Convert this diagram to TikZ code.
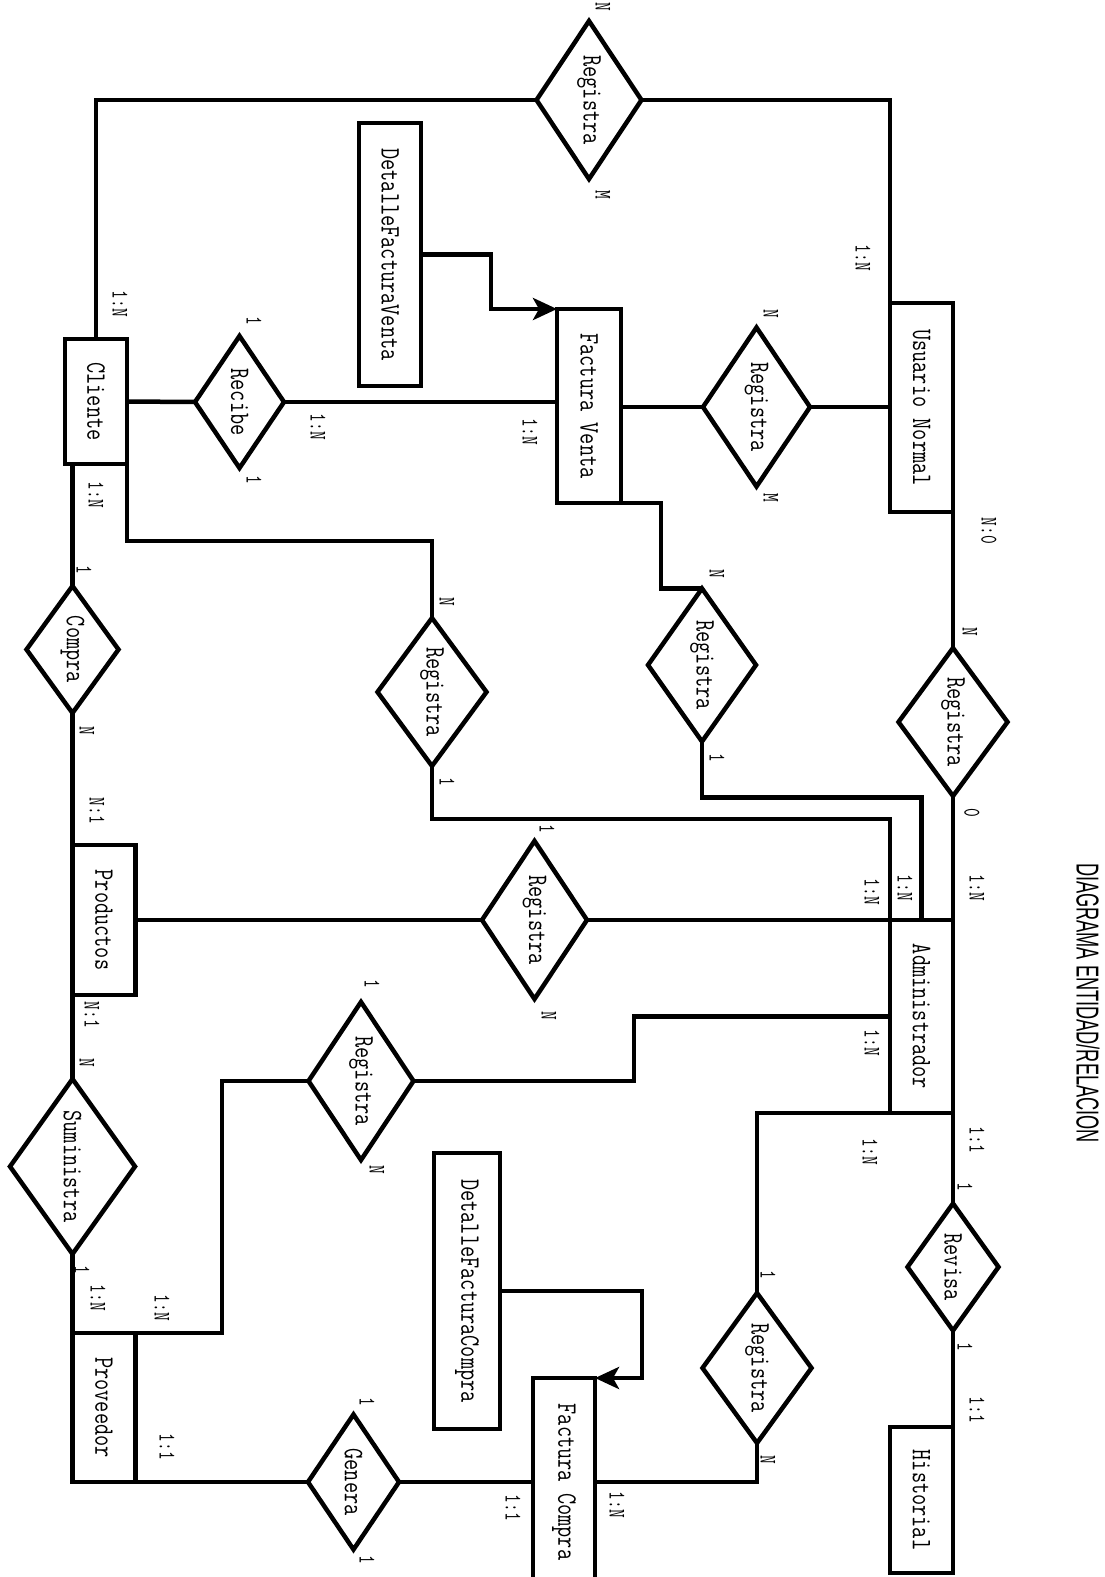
\documentclass[tikz,border=0pt]{standalone}
\usepackage{graphicx}
\usepackage{fontspec}
\setsansfont{Liberation Sans}
\usetikzlibrary{shapes.geometric,arrows.meta}
\newcommand\bxt[1]{\rotatebox{-90}{\scalebox{1}[1.3]{\fontsize{21.7}{22}\selectfont\ttfamily #1}}}
\newcommand\lbt[1]{\rotatebox{-90}{\scalebox{1}[1.4]{\fontsize{17}{17}\selectfont\ttfamily #1}}}
\tikzset{
  ent/.style={draw, line width=4.5pt, rectangle, inner sep=0pt, outer sep=0pt},
  rel/.style={draw, line width=4.5pt, diamond, aspect=0.7, inner sep=0pt, outer sep=0pt},
  lnk/.style={line width=4.5pt, line join=miter},
  arr/.style={line width=4.5pt, -{Stealth[length=24pt, width=22pt, inset=6pt]}},
  lab/.style={inner sep=0pt, outer sep=0pt}
}
\begin{document}
\begin{tikzpicture}[x=1pt, y=-1pt]
\fill[white] (0,0) rectangle (1104,1577);
\useasboundingbox (0,0) rectangle (1104,1577);

% title
\node[lab] (title) at (1088,1003) {\rotatebox{-90}{\resizebox{280pt}{23pt}{\sffamily DIAGRAMA ENTIDAD/RELACION}}};

% entities
\node[ent, minimum width=62pt, minimum height=263pt] (dfv) at (390,254.5) {\bxt{DetalleFacturaVenta}};
\node[ent, minimum width=62pt, minimum height=125pt] (cli) at (96,401.5) {\bxt{Cliente}};
\node[ent, minimum width=63pt, minimum height=209pt] (usu) at (921.5,407.5) {\bxt{Usuario Normal}};
\node[ent, minimum width=64pt, minimum height=194pt] (fv) at (589,406) {\bxt{Factura Venta}};
\node[ent, minimum width=63pt, minimum height=150pt] (prod) at (104,920) {\bxt{Productos}};
\node[ent, minimum width=63pt, minimum height=193pt] (adm) at (921.5,1016.5) {\bxt{Administrador}};
\node[ent, minimum width=63pt, minimum height=149pt] (prov) at (104,1407.5) {\bxt{Proveedor}};
\node[ent, minimum width=66pt, minimum height=276pt] (dfc) at (467,1291) {\bxt{DetalleFacturaCompra}};
\node[ent, minimum width=62pt, minimum height=208pt] (fc) at (564,1482) {\bxt{Factura Compra}};
\node[ent, minimum width=63pt, minimum height=146pt] (hist) at (921.5,1500) {\bxt{Historial}};

% relationships
\node[rel, minimum width=105pt, minimum height=158pt] (r1) at (589,100) {\bxt{Registra}};
\node[rel, minimum width=107pt, minimum height=159pt] (r2) at (756.5,407) {\bxt{Registra}};
\node[rel, minimum width=89pt, minimum height=132pt] (recibe) at (239.5,402) {\bxt{Recibe}};
\node[rel, minimum width=92pt, minimum height=127pt] (compra) at (72.5,649.5) {\bxt{Compra}};
\node[rel, minimum width=109pt, minimum height=148pt] (r3) at (432,692) {\bxt{Registra}};
\node[rel, minimum width=108pt, minimum height=153pt] (r4) at (702,665) {\bxt{Registra}};
\node[rel, minimum width=109pt, minimum height=148pt] (r5) at (953,722) {\bxt{Registra}};
\node[rel, minimum width=105pt, minimum height=158pt] (r6) at (534.5,920) {\bxt{Registra}};
\node[rel, minimum width=125pt, minimum height=175pt] (sumi) at (72.5,1166.5) {\bxt{Suministra}};
\node[rel, minimum width=105pt, minimum height=158pt] (r7) at (361,1081) {\bxt{Registra}};
\node[rel, minimum width=91pt, minimum height=127pt] (revisa) at (953,1267) {\bxt{Revisa}};
\node[rel, minimum width=109pt, minimum height=150pt] (r8) at (757,1368) {\bxt{Registra}};
\node[rel, minimum width=91pt, minimum height=135pt] (genera) at (353.5,1482) {\bxt{Genera}};

% bend points
\coordinate (dv1) at (491,280);
\coordinate (dc1) at (642,1330);

% connectors
\draw[lnk] (cli.north) |- (r1.west);
\draw[lnk] (r1.east) -| (usu.north west);
\draw[arr] (dfv.east) -| (dv1) |- (fv.north west);
\draw[lnk] (cli.east) -- (recibe.west);
\draw[lnk] (recibe.east) -- (recibe.east -| fv.west);
\draw[lnk] (fv.east |- r2.west) -- (r2.west);
\draw[lnk] (r2.east) -- (r2.east -| usu.west);
\draw[lnk] (compra.north |- cli.south) -- (compra.north);
\draw[lnk] (compra.south) -- (prod.north west);
\draw[lnk] (cli.south east) -- ++(0,77) -| (r3.north);
\draw[lnk] (r3.south) -- ++(0,53) -| (adm.north west);
\draw[lnk] (fv.south east) -- ++(40,0) |- (r4.north);
\draw[lnk] (r4.south) -- ++(0,56) -| (adm.north);
\draw[lnk] (usu.south east) -- (r5.north);
\draw[lnk] (r5.south) -- (adm.north east);
\draw[lnk] (prod.east) -- (r6.west);
\draw[lnk] (r6.east) -- (adm.north west);
\draw[lnk] (prod.south west) -- (sumi.north);
\draw[lnk] (sumi.south) -- (prov.north west);
\draw[lnk] (adm.west) -- ++(-256,0) |- (r7.east);
\draw[lnk] (r7.west) -- ++(-86.5,0) |- (prov.north east);
\draw[lnk] (prov.south east) -- (genera.west);
\draw[lnk] (genera.east) -- (fc.west);
\draw[lnk] (adm.south west) -| (r8.north);
\draw[lnk] (r8.south) |- (fc.east);
\draw[lnk] (adm.south east) -- (revisa.north);
\draw[lnk] (revisa.south) -- (hist.north east);
\draw[arr] (dfc.east) -| (dc1) |- (fc.north east);

% cardinality labels
\node[lab] (c1) at (603,7) {\lbt{N}};
\node[lab] (c2) at (603,195) {\lbt{M}};
\node[lab] (c3) at (863,258) {\lbt{1:N}};
\node[lab] (c4) at (120,304) {\lbt{1:N}};
\node[lab] (c5) at (771,314) {\lbt{N}};
\node[lab] (c6) at (771,498) {\lbt{M}};
\node[lab] (c7) at (254,321) {\lbt{1}};
\node[lab] (c8) at (254,480) {\lbt{1}};
\node[lab] (c9) at (318,427) {\lbt{1:N}};
\node[lab] (c10) at (530,432) {\lbt{1:N}};
\node[lab] (c11) at (96,495) {\lbt{1:N}};
\node[lab] (c12) at (989,531) {\lbt{N:0}};
\node[lab] (c13) at (84,570) {\lbt{1}};
\node[lab] (c14) at (717,574) {\lbt{N}};
\node[lab] (c15) at (717,758) {\lbt{1}};
\node[lab] (c16) at (447,602) {\lbt{N}};
\node[lab] (c17) at (447,782) {\lbt{1}};
\node[lab] (c18) at (970,632) {\lbt{N}};
\node[lab] (c19) at (972,813) {\lbt{0}};
\node[lab] (c20) at (87,731) {\lbt{N}};
\node[lab] (c21) at (97,811) {\lbt{N:1}};
\node[lab] (c22) at (547,829) {\lbt{1}};
\node[lab] (c23) at (549,1016) {\lbt{N}};
\node[lab] (c24) at (977,888) {\lbt{1:N}};
\node[lab] (c25) at (905,888) {\lbt{1:N}};
\node[lab] (c26) at (872,892) {\lbt{1:N}};
\node[lab] (c27) at (92,1015) {\lbt{N:1}};
\node[lab] (c28) at (87,1063) {\lbt{N}};
\node[lab] (c29) at (372,984) {\lbt{1}};
\node[lab] (c30) at (377,1170) {\lbt{N}};
\node[lab] (c31) at (872,1043) {\lbt{1:N}};
\node[lab] (c32) at (977,1140) {\lbt{1:1}};
\node[lab] (c33) at (965,1187) {\lbt{1}};
\node[lab] (c34) at (870,1152) {\lbt{1:N}};
\node[lab] (c35) at (82,1270) {\lbt{1}};
\node[lab] (c36) at (98,1298) {\lbt{1:N}};
\node[lab] (c37) at (162,1308) {\lbt{1:N}};
\node[lab] (c38) at (965,1347) {\lbt{1}};
\node[lab] (c39) at (977,1410) {\lbt{1:1}};
\node[lab] (c40) at (768,1275) {\lbt{1}};
\node[lab] (c41) at (768,1460) {\lbt{N}};
\node[lab] (c42) at (367,1402) {\lbt{1}};
\node[lab] (c43) at (367,1560) {\lbt{1}};
\node[lab] (c44) at (167,1447) {\lbt{1:1}};
\node[lab] (c45) at (513,1508) {\lbt{1:1}};
\node[lab] (c46) at (617,1505) {\lbt{1:N}};
\end{tikzpicture}
\end{document}
